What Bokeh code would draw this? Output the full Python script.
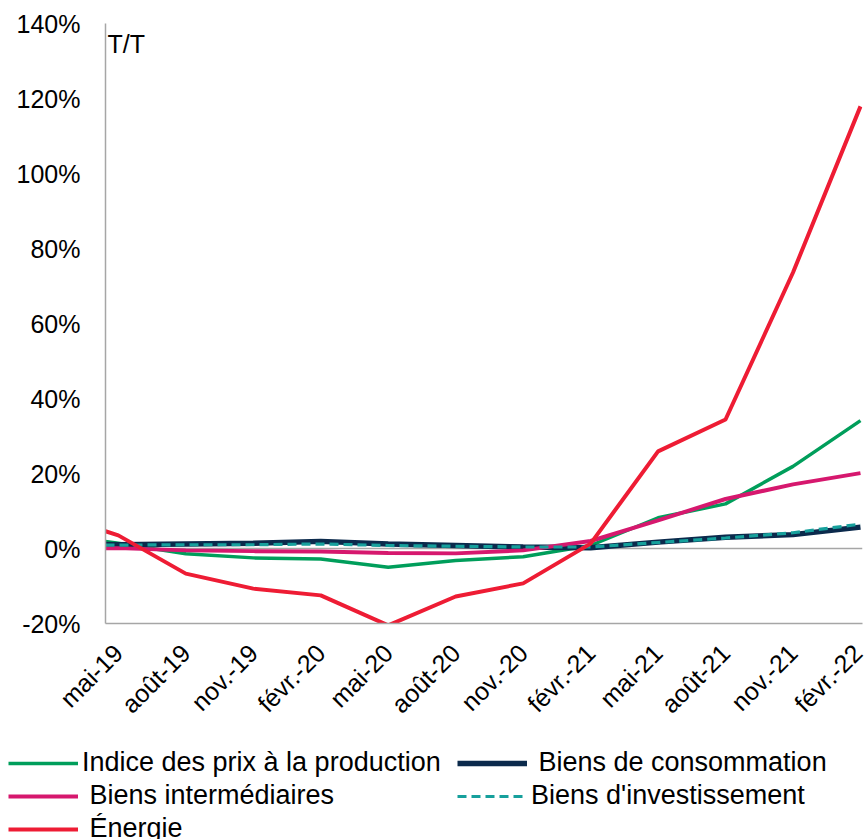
import math
from bokeh.plotting import figure
from bokeh.layouts import column
from bokeh.models import Range1d, FixedTicker, PrintfTickFormatter, Legend, LegendItem, Label
from bokeh.embed import file_html
from bokeh.resources import INLINE

# Quarterly tick labels
trimestres = ["mai-19", "août-19", "nov.-19", "févr.-20", "mai-20", "août-20",
              "nov.-20", "févr.-21", "mai-21", "août-21", "nov.-21", "févr.-22"]

# Position of each observation, in quarters after mai-19 (first one slightly earlier)
periode = [-0.19, 0, 1, 2, 3, 4, 5, 6, 7, 8, 9, 10, 11]

# Year-over-year change, %
ipp = [1.9, 1.4, -1.4, -2.5, -2.8, -5.0, -3.2, -2.2, 0.8, 8.2, 11.9, 21.9, 34.1]
consommation = [1.1, 1.0, 1.2, 1.4, 1.9, 1.2, 0.8, 0.4, 0.2, 1.7, 3.0, 3.7, 5.7]
intermediaires = [0.1, 0.1, -0.5, -0.7, -0.8, -1.2, -1.3, -0.5, 2.0, 7.5, 13.2, 17.1, 20.1]
investissement = [0.9, 0.9, 1.0, 1.0, 1.2, 0.8, 0.6, 0.4, 0.4, 1.6, 2.8, 4.2, 6.5]
energie = [4.6, 3.5, -6.7, -10.7, -12.5, -20.5, -12.8, -9.3, 1.3, 25.9, 34.4, 73.6, 117.9]

FONT = "Liberation Sans"
GRAY = "#a6a6a6"
NBSP = "\u00a0"

# name, values, style (drawing order: later series on top)
series = [
    ("Indice des prix à la production", ipp, dict(line_color="#009e5b", line_width=3.5)),
    ("Biens de consommation", consommation, dict(line_color="#0b2a4c", line_width=5.5)),
    ("Biens intermédiaires", intermediaires, dict(line_color="#d6186e", line_width=4)),
    ("Biens d'investissement", investissement,
     dict(line_color="#16a09c", line_width=3.2, line_dash="9 5")),
    ("Énergie", energie, dict(line_color="#ee1c34", line_width=4)),
]

p = figure(width=867, height=740, output_backend="svg", toolbar_location=None,
           x_range=Range1d(-0.19, 11.03), y_range=Range1d(-20, 140),
           min_border_left=105, min_border_right=5, min_border_top=23,
           min_border_bottom=117, background_fill_color="white",
           border_fill_color="white", outline_line_color=None)

# Axes
p.yaxis.ticker = FixedTicker(ticks=list(range(-20, 141, 20)))
p.yaxis.formatter = PrintfTickFormatter(format="%d%%")
p.xaxis.ticker = FixedTicker(ticks=list(range(len(trimestres))))
p.xaxis.major_label_overrides = {i: t for i, t in enumerate(trimestres)}
p.xaxis.major_label_orientation = math.pi / 4
for ax in (p.xaxis, p.yaxis):
    ax.axis_line_color = GRAY
    ax.axis_line_width = 1.5
    ax.major_tick_line_color = None
    ax.minor_tick_line_color = None
    ax.major_tick_out = 0
    ax.major_tick_in = 0
    ax.major_label_text_font = FONT
    ax.major_label_text_color = "black"
p.yaxis.major_label_text_font_size = "25px"
p.xaxis.major_label_text_font_size = "25px"
p.yaxis.major_label_standoff = 25
p.xaxis.major_label_standoff = 25

p.xgrid.grid_line_color = None
p.ygrid.ticker = FixedTicker(ticks=[0, 140])
p.ygrid.grid_line_color = GRAY
p.ygrid.grid_line_width = 1.5

for name, vals, style in series:
    p.line(periode, vals, **style)

p.add_layout(Label(x=-0.19, y=140, text="T/T", text_font=FONT,
                   text_font_size="25px", text_color="black",
                   text_baseline="top", x_offset=2, y_offset=-6))

# Legend strip under the chart, two columns
leg = figure(width=867, height=99, output_backend="svg", toolbar_location=None,
             x_range=Range1d(0, 1), y_range=Range1d(0, 1),
             x_axis_type=None, y_axis_type=None, frame_align=False,
             min_border=0, min_border_left=0, min_border_right=0,
             min_border_top=0, min_border_bottom=0, outline_line_color=None)
leg.xgrid.grid_line_color = None
leg.ygrid.grid_line_color = None
nan = float("nan")
handles = {name: leg.line([nan], [nan], **style) for name, vals, style in series}
order = [("Indice des prix à la production", ""), ("Biens intermédiaires", NBSP),
         ("Énergie", NBSP), ("Biens de consommation", NBSP),
         ("Biens d'investissement", "")]
legend = Legend(
    items=[LegendItem(label=pad + n, renderers=[handles[n]]) for n, pad in order],
    ncols=2, location=(8, -5), margin=0, padding=0,
    glyph_width=70, glyph_height=30, label_height=30, label_width=373,
    label_standoff=4, spacing=2,
    label_text_font=FONT, label_text_font_size="27px", label_text_color="black",
    border_line_color=None, background_fill_alpha=0,
)
leg.add_layout(legend, "center")

open("out.html", "w").write(file_html(column(p, leg), INLINE))
